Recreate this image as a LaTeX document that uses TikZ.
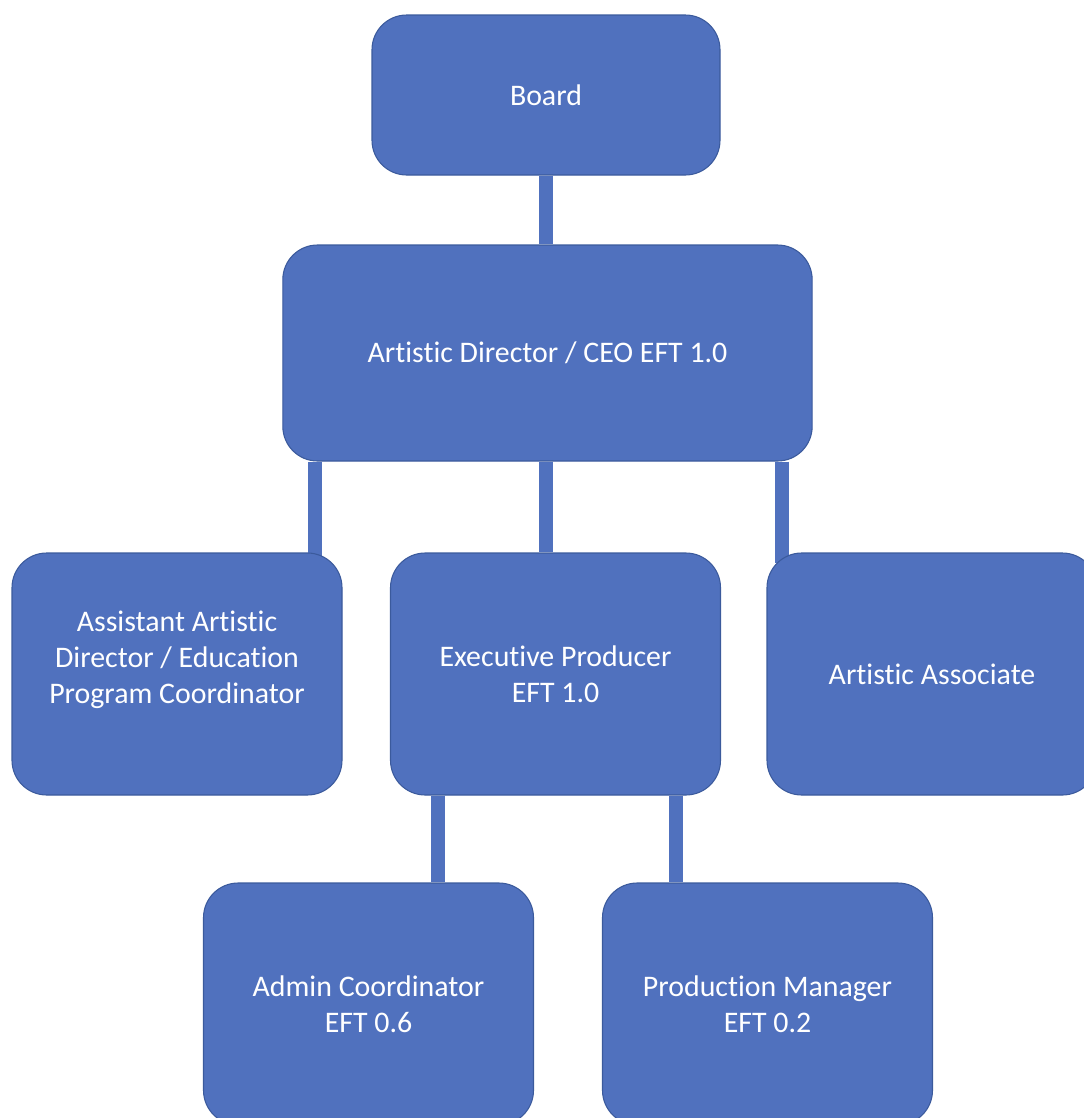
\documentclass[tikz,border=0pt]{standalone}
\usepackage{fontspec}
\setmainfont{Carlito}[Ligatures={NoCommon}]
\usetikzlibrary{backgrounds}
\definecolor{boxblue}{HTML}{5071BE}
\definecolor{edgeblue}{HTML}{3B5A9C}
\begin{document}
\begin{tikzpicture}[x=0.75pt,y=-0.75pt,
  orgbox/.style={draw=edgeblue,line width=0.8pt,fill=boxblue,rounded corners=26pt,
    text=white,align=center,inner sep=0pt,font=\fontsize{22.4}{27}\selectfont},
  link/.style={draw=boxblue,line width=10.5pt}]
\useasboundingbox (0,0) rectangle (1084,1118);
\clip (0,0) rectangle (1084,1118);
% nodes
\node[orgbox,minimum width=261pt,minimum height=120pt] (board) at (546,95) {Board};
\node[orgbox,minimum width=397pt,minimum height=162pt] (ad) at (547.5,353) {Artistic Director / CEO EFT 1.0};
\node[orgbox,minimum width=247.5pt,minimum height=181.5pt,text depth=25.5pt] (asst) at (177,674) {Assistant Artistic\\Director / Education\\Program Coordinator};
\node[orgbox,minimum width=247.5pt,minimum height=181.5pt] (ep) at (555.5,674) {Executive Producer\\EFT 1.0};
\node[orgbox,minimum width=247.5pt,minimum height=181.5pt] (aa) at (932,674) {Artistic Associate};
\node[orgbox,minimum width=247.5pt,minimum height=181.5pt] (admin) at (368.5,1004) {Admin Coordinator\\EFT 0.6};
\node[orgbox,minimum width=247.5pt,minimum height=181.5pt] (prod) at (767.5,1004) {Production Manager\\EFT 0.2};
% connector x positions
\coordinate (c1) at (315,0);
\coordinate (c2) at (546,0);
\coordinate (c3) at (782,0);
\coordinate (c4) at (438,0);
\coordinate (c5) at (676,0);
\begin{scope}[on background layer]
\draw[link] (board.south -| c2) -- (ad.north -| c2);
\draw[link] (ad.south -| c1) -- ([yshift=-8pt]asst.north -| c1);
\draw[link] (ad.south -| c2) -- (ep.north -| c2);
\draw[link] (ad.south -| c3) -- ([yshift=-8pt]aa.north -| c3);
\draw[link] (ep.south -| c4) -- (admin.north -| c4);
\draw[link] (ep.south -| c5) -- (prod.north -| c5);
\end{scope}
\end{tikzpicture}
\end{document}
